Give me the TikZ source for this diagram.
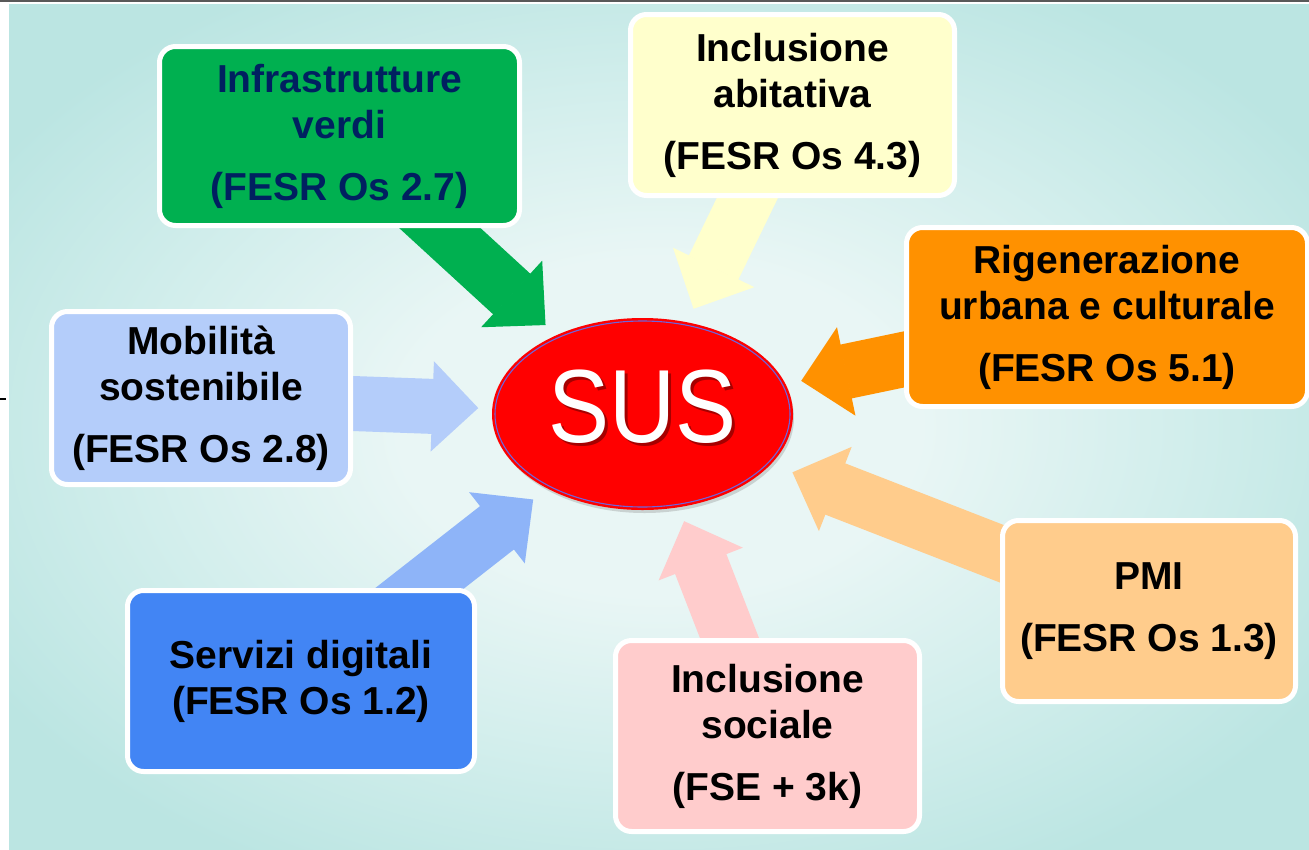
\documentclass[tikz,border=0pt]{standalone}
\usepackage{fontspec}
\setmainfont{Liberation Sans}
\usetikzlibrary{arrows.meta, shapes.geometric, shadows}

\definecolor{verde}{RGB}{0,176,80}
\definecolor{navy}{RGB}{0,32,96}
\definecolor{giallo}{RGB}{255,255,204}
\definecolor{arancio}{RGB}{255,145,0}
\definecolor{azzurro}{RGB}{180,205,250}
\definecolor{blu}{RGB}{66,133,244}
\definecolor{bluchiaro}{RGB}{142,180,248}
\definecolor{rosa}{RGB}{255,204,204}
\definecolor{pesca}{RGB}{255,204,140}
\definecolor{rosso}{RGB}{255,0,0}
\definecolor{ombra}{RGB}{165,0,0}
\definecolor{bordoblu}{RGB}{110,100,220}
\definecolor{bgteal}{RGB}{187,229,226}
\definecolor{bgmid}{RGB}{210,238,236}
\definecolor{bglight}{RGB}{233,246,245}
\definecolor{bgcorner}{RGB}{225,243,242}

\pgfdeclareradialshading{sfondo}{\pgfpoint{0bp}{0bp}}{color(0bp)=(bglight); color(10bp)=(bglight); color(20bp)=(bgmid); color(30bp)=(bgteal); color(55bp)=(bgteal); color(71bp)=(bgcorner)}

\pgfdeclarelayer{back}
\pgfdeclarelayer{mid}
\pgfsetlayers{back,mid,main}

\tikzset{
  box/.style={draw=white, line width=5pt, rounded corners=16pt, align=center,
    inner sep=0pt, font=\fontsize{39}{46}\selectfont\bfseries},
  feed/.style={line width=55pt, -{Triangle[length=46pt, width=90pt, line width=2pt]},
    shorten >=15pt}
}

\begin{document}
\begin{tikzpicture}[x=1pt, y=-1pt]
\useasboundingbox (0,0) rectangle (1309,849);

% boxes
\node[box, fill=verde, text=navy, minimum width=360pt, minimum height=179pt] (verdi) at (339.5,136)
  {Infrastrutture\\verdi\\[16pt](FESR Os 2.7)};
\node[box, fill=giallo, minimum width=324pt, minimum height=181pt] (abitativa) at (792.5,105)
  {Inclusione\\abitativa\\[16pt](FESR Os 4.3)};
\node[box, fill=arancio, minimum width=401pt, minimum height=179pt] (rigenerazione) at (1107,317)
  {Rigenerazione\\urbana e culturale\\[16pt](FESR Os 5.1)};
\node[box, fill=azzurro, minimum width=299pt, minimum height=173pt] (mobilita) at (201,398)
  {Mobilità\\sostenibile\\[16pt](FESR Os 2.8)};
\node[box, fill=blu, minimum width=347pt, minimum height=181pt] (digitali) at (301,681)
  {Servizi digitali\\(FESR Os 1.2)};
\node[box, fill=rosa, minimum width=304pt, minimum height=191pt] (sociale) at (767.5,736)
  {Inclusione\\sociale\\[16pt](FSE + 3k)};
\node[box, fill=pesca, minimum width=293pt, minimum height=181pt] (pmi) at (1149,611)
  {PMI\\[16pt](FESR Os 1.3)};

% centre
\node[ellipse, fill=rosso, draw=rosso, line width=2pt, minimum width=299pt, minimum height=190pt,
  drop shadow={opacity=0.3, shadow xshift=2pt, shadow yshift=-4pt}] (sus) at (642.5,414) {};
\draw[bordoblu, line width=1.1pt] (sus.center) ellipse [x radius=147.5, y radius=93];
\node[text=white, font=\fontsize{104}{110}\selectfont] (sustesto) at (642.5,408)
  {\scalebox{0.88}[1]{\makebox[0pt][l]{\hspace{3pt}\raisebox{-3pt}{\color{ombra}SUS}}SUS}};

% arrows
\begin{pgfonlayer}{mid}
\draw[feed, verde] (verdi.center) -- (sus);
\draw[feed, giallo] (abitativa.center) -- (sus);
\draw[feed, arancio, shorten >=16pt] (rigenerazione.center) -- (sus);
\draw[feed, azzurro, shorten >=14pt] (mobilita.center) -- (sus);
\draw[feed, bluchiaro, shorten >=18pt] (digitali.center) -- (sus);
\draw[feed, rosa] (sociale.center) -- (sus);
\draw[feed, pesca, shorten >=23pt] (pmi.center) -- (sus);
\end{pgfonlayer}

% background
\begin{pgfonlayer}{back}
\fill[white] (0,0) rectangle (1309,849);
\shade[shading=sfondo] (9,4.5) rectangle (1309,849);
\draw[gray!70!black, line width=1.5pt] (0,0.75) -- (1309,0.75);
\draw[line width=1.5pt] (0,399) -- (6,399);
\end{pgfonlayer}
\end{tikzpicture}
\end{document}
